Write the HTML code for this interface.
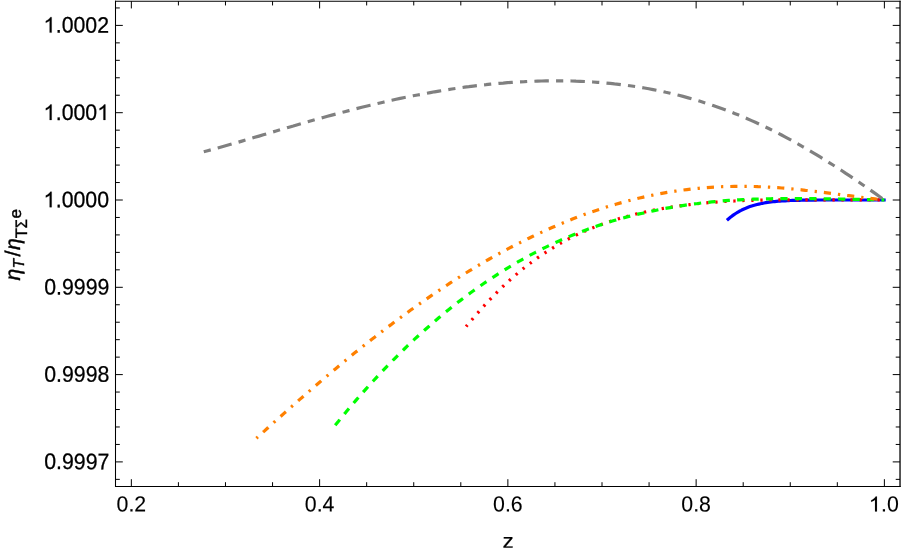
<!DOCTYPE html>
<html><head><meta charset="utf-8"><title>plot</title>
<style>
html,body{margin:0;padding:0;background:#fff;}
svg{display:block;will-change:transform;filter:opacity(1);}
text{font-family:"Liberation Sans",sans-serif;fill:#000;stroke:#000;text-rendering:geometricPrecision;}
</style></head><body>
<svg width="903" height="555" viewBox="0 0 903 555">
<rect width="903" height="555" fill="#fff"/>
<g fill="none" stroke-width="3.2" stroke-linecap="butt" stroke-linejoin="round">
<path d="M726.9,220.3 L728.7,218.7 L730.4,217.3 L732.2,215.9 L734.0,214.6 L735.7,213.5 L737.5,212.4 L739.3,211.3 L741.1,210.4 L742.8,209.5 L744.6,208.7 L746.4,208.0 L748.1,207.3 L749.9,206.6 L751.7,206.0 L753.4,205.5 L755.2,205.0 L757.0,204.5 L758.8,204.1 L760.5,203.7 L762.3,203.3 L764.1,203.0 L765.8,202.7 L767.6,202.4 L769.4,202.2 L771.1,202.0 L772.9,201.7 L774.7,201.6 L776.5,201.4 L778.2,201.2 L780.0,201.1 L781.8,201.0 L783.5,200.9 L785.3,200.8 L787.1,200.7 L788.8,200.6 L790.6,200.5 L792.4,200.4 L794.1,200.4 L795.9,200.3 L797.7,200.3 L799.5,200.3 L801.2,200.2 L803.0,200.2 L804.8,200.2 L806.5,200.1 L808.3,200.1 L810.1,200.1 L811.8,200.1 L813.6,200.1 L815.4,200.1 L817.2,200.0 L818.9,200.0 L820.7,200.0 L822.5,200.0 L824.2,200.0 L826.0,200.0 L827.8,200.0 L829.5,200.0 L831.3,200.0 L833.1,200.0 L834.8,200.0 L836.6,200.0 L838.4,200.0 L840.2,200.0 L841.9,200.0 L843.7,200.0 L845.5,200.0 L847.2,200.0 L849.0,200.0 L850.8,200.0 L852.5,200.0 L854.3,200.0 L856.1,200.0 L857.9,200.0 L859.6,200.0 L861.4,200.0 L863.2,200.0 L864.9,200.0 L866.7,200.0 L868.5,200.0 L870.2,200.0 L872.0,200.0 L873.8,200.0 L875.6,200.0 L877.3,200.0 L879.1,200.0 L880.9,200.0 L882.6,200.0 L884.4,200.0 L885.7,200.0" stroke="#0000ff"/>
<path d="M466.1,326.6 L468.7,323.4 L471.4,320.3 L474.0,317.2 L476.6,314.2 L479.3,311.2 L481.9,308.2 L484.5,305.4 L487.1,302.5 L489.8,299.7 L492.4,297.0 L495.0,294.3 L497.7,291.6 L500.3,289.1 L502.9,286.5 L505.6,284.0 L508.2,281.6 L510.8,279.2 L513.5,276.9 L516.1,274.6 L518.7,272.4 L521.3,270.2 L524.0,268.1 L526.6,266.0 L529.2,264.0 L531.9,262.0 L534.5,260.1 L537.1,258.2 L539.8,256.4 L542.4,254.6 L545.0,252.8 L547.7,251.1 L550.3,249.4 L552.9,247.8 L555.5,246.2 L558.2,244.6 L560.8,243.1 L563.4,241.7 L566.1,240.2 L568.7,238.8 L571.3,237.5 L574.0,236.2 L576.6,234.9 L579.2,233.6 L581.9,232.4 L584.5,231.3 L587.1,230.1 L589.7,229.0 L592.4,227.9 L595.0,226.9 L597.6,225.8 L600.3,224.8 L602.9,223.9 L605.5,223.0 L608.2,222.1 L610.8,221.2 L613.4,220.4 L616.1,219.6 L618.7,218.8 L621.3,218.0 L623.9,217.2 L626.6,216.5 L629.2,215.8 L631.8,215.1 L634.5,214.5 L637.1,213.8 L639.7,213.2 L642.4,212.6 L645.0,212.0 L647.6,211.4 L650.3,210.9 L652.9,210.4 L655.5,209.8 L658.1,209.3 L660.8,208.9 L663.4,208.4 L666.0,208.0 L668.7,207.5 L671.3,207.1 L673.9,206.7 L676.6,206.3 L679.2,205.9 L681.8,205.6 L684.5,205.2 L687.1,204.9 L689.7,204.6 L692.4,204.3 L695.0,204.0 L697.6,203.7 L700.2,203.4 L702.9,203.2 L705.5,202.9 L708.1,202.7 L710.8,202.5 L713.4,202.3 L716.0,202.1 L718.7,201.9 L721.3,201.7 L723.9,201.5 L726.6,201.4 L729.2,201.2 L731.8,201.1 L734.4,201.0 L737.1,200.9 L739.7,200.7 L742.3,200.6 L745.0,200.5 L747.6,200.5 L750.2,200.4 L752.9,200.3 L755.5,200.2 L758.1,200.2 L760.8,200.1 L763.4,200.1 L766.0,200.0 L768.6,200.0 L771.3,200.0 L773.9,199.9 L776.5,199.9 L779.2,199.9 L781.8,199.9 L784.4,199.9 L787.1,199.9 L789.7,199.8 L792.3,199.8 L795.0,199.8 L797.6,199.8 L800.2,199.8 L802.8,199.8 L805.5,199.8 L808.1,199.8 L810.7,199.8 L813.4,199.8 L816.0,199.8 L818.6,199.8 L821.3,199.8 L823.9,199.8 L826.5,199.8 L829.2,199.8 L831.8,199.8 L834.4,199.8 L837.0,199.8 L839.7,199.8 L842.3,199.8 L844.9,199.8 L847.6,199.8 L850.2,199.8 L852.8,199.8 L855.5,199.8 L858.1,199.8 L860.7,199.8 L863.4,199.8 L866.0,199.8 L868.6,199.8 L871.2,199.8 L873.9,199.8 L876.5,199.9 L879.1,199.9 L881.8,199.9 L884.4,200.0" stroke="#ff0000" stroke-dasharray="2.3 6.715" stroke-dashoffset="0.3"/>
<path d="M335.2,425.2 L338.7,421.0 L342.1,416.7 L345.6,412.6 L349.0,408.4 L352.5,404.4 L355.9,400.4 L359.4,396.4 L362.8,392.5 L366.3,388.6 L369.7,384.8 L373.2,381.0 L376.6,377.3 L380.1,373.6 L383.6,369.9 L387.0,366.3 L390.5,362.8 L393.9,359.3 L397.4,355.8 L400.8,352.4 L404.3,349.0 L407.7,345.7 L411.2,342.4 L414.6,339.2 L418.1,336.0 L421.6,332.9 L425.0,329.8 L428.5,326.7 L431.9,323.7 L435.4,320.7 L438.8,317.8 L442.3,314.9 L445.7,312.1 L449.2,309.3 L452.6,306.5 L456.1,303.8 L459.5,301.1 L463.0,298.5 L466.5,295.9 L469.9,293.3 L473.4,290.8 L476.8,288.3 L480.3,285.9 L483.7,283.5 L487.2,281.1 L490.6,278.8 L494.1,276.6 L497.5,274.3 L501.0,272.1 L504.5,270.0 L507.9,267.8 L511.4,265.8 L514.8,263.7 L518.3,261.7 L521.7,259.8 L525.2,257.8 L528.6,255.9 L532.1,254.1 L535.5,252.3 L539.0,250.5 L542.4,248.8 L545.9,247.1 L549.4,245.4 L552.8,243.8 L556.3,242.2 L559.7,240.6 L563.2,239.1 L566.6,237.6 L570.1,236.1 L573.5,234.7 L577.0,233.3 L580.4,232.0 L583.9,230.7 L587.3,229.4 L590.8,228.1 L594.3,226.9 L597.7,225.7 L601.2,224.6 L604.6,223.5 L608.1,222.4 L611.5,221.3 L615.0,220.3 L618.4,219.3 L621.9,218.3 L625.3,217.4 L628.8,216.5 L632.3,215.6 L635.7,214.8 L639.2,213.9 L642.6,213.2 L646.1,212.4 L649.5,211.7 L653.0,210.9 L656.4,210.2 L659.9,209.5 L663.3,208.8 L666.8,208.2 L670.2,207.6 L673.7,207.0 L677.2,206.4 L680.6,205.9 L684.1,205.3 L687.5,204.8 L691.0,204.4 L694.4,203.9 L697.9,203.5 L701.3,203.0 L704.8,202.7 L708.2,202.3 L711.7,201.9 L715.1,201.6 L718.6,201.3 L722.1,201.0 L725.5,200.7 L729.0,200.4 L732.4,200.2 L735.9,200.0 L739.3,199.8 L742.8,199.6 L746.2,199.5 L749.7,199.3 L753.1,199.2 L756.6,199.1 L760.1,199.0 L763.5,198.9 L767.0,198.8 L770.4,198.8 L773.9,198.7 L777.3,198.7 L780.8,198.6 L784.2,198.6 L787.7,198.6 L791.1,198.6 L794.6,198.6 L798.0,198.6 L801.5,198.6 L805.0,198.6 L808.4,198.6 L811.9,198.6 L815.3,198.7 L818.8,198.7 L822.2,198.7 L825.7,198.8 L829.1,198.8 L832.6,198.9 L836.0,198.9 L839.5,199.0 L843.0,199.1 L846.4,199.1 L849.9,199.2 L853.3,199.3 L856.8,199.3 L860.2,199.4 L863.7,199.5 L867.1,199.6 L870.6,199.6 L874.0,199.7 L877.5,199.8 L880.9,199.9 L884.4,200.0" stroke="#00ff00" stroke-dasharray="7.218 7.218"/>
<path d="M256.4,438.2 L260.3,434.6 L264.3,431.1 L268.2,427.5 L272.2,424.0 L276.1,420.4 L280.1,416.9 L284.0,413.4 L288.0,409.9 L291.9,406.4 L295.9,402.9 L299.8,399.4 L303.8,396.0 L307.7,392.5 L311.7,389.1 L315.6,385.7 L319.6,382.3 L323.5,378.9 L327.5,375.6 L331.4,372.2 L335.4,368.9 L339.3,365.6 L343.3,362.3 L347.2,359.1 L351.2,355.8 L355.1,352.6 L359.1,349.5 L363.0,346.3 L367.0,343.2 L370.9,340.0 L374.9,337.0 L378.8,333.9 L382.8,330.9 L386.7,327.8 L390.7,324.9 L394.6,321.9 L398.6,319.0 L402.5,316.1 L406.5,313.2 L410.4,310.3 L414.4,307.5 L418.3,304.7 L422.3,301.9 L426.2,299.2 L430.2,296.4 L434.1,293.7 L438.1,291.1 L442.0,288.4 L446.0,285.8 L449.9,283.2 L453.9,280.6 L457.8,278.1 L461.8,275.6 L465.7,273.1 L469.7,270.7 L473.6,268.3 L477.6,265.9 L481.5,263.6 L485.5,261.3 L489.4,259.0 L493.4,256.8 L497.3,254.6 L501.3,252.4 L505.2,250.3 L509.2,248.2 L513.1,246.1 L517.1,244.1 L521.0,242.1 L525.0,240.1 L528.9,238.2 L532.9,236.3 L536.8,234.4 L540.8,232.6 L544.7,230.8 L548.7,229.0 L552.6,227.3 L556.6,225.6 L560.5,223.9 L564.5,222.3 L568.4,220.7 L572.4,219.1 L576.3,217.6 L580.3,216.1 L584.2,214.6 L588.2,213.2 L592.1,211.8 L596.1,210.5 L600.0,209.2 L604.0,207.9 L607.9,206.6 L611.9,205.4 L615.8,204.3 L619.8,203.1 L623.7,202.0 L627.7,201.0 L631.6,199.9 L635.6,199.0 L639.5,198.0 L643.5,197.1 L647.4,196.2 L651.4,195.4 L655.3,194.6 L659.3,193.8 L663.2,193.1 L667.2,192.4 L671.1,191.8 L675.1,191.2 L679.0,190.6 L683.0,190.1 L686.9,189.6 L690.9,189.1 L694.8,188.7 L698.8,188.3 L702.7,187.9 L706.7,187.6 L710.6,187.3 L714.6,187.1 L718.5,186.9 L722.5,186.7 L726.4,186.6 L730.4,186.5 L734.3,186.4 L738.3,186.4 L742.2,186.4 L746.2,186.4 L750.1,186.4 L754.1,186.5 L758.0,186.7 L762.0,186.8 L765.9,187.0 L769.9,187.2 L773.8,187.5 L777.8,187.7 L781.7,188.0 L785.7,188.3 L789.6,188.7 L793.6,189.0 L797.5,189.4 L801.5,189.8 L805.4,190.3 L809.4,190.7 L813.3,191.2 L817.3,191.6 L821.2,192.1 L825.2,192.6 L829.1,193.1 L833.1,193.6 L837.0,194.1 L841.0,194.7 L844.9,195.2 L848.9,195.7 L852.8,196.2 L856.8,196.7 L860.7,197.3 L864.7,197.8 L868.6,198.2 L872.6,198.7 L876.5,199.2 L880.5,199.6 L884.4,200.0" stroke="#ff8000" stroke-dasharray="2.3 7.0 7.16 7.009" stroke-dashoffset="0.3"/>
<path d="M203.3,151.9 L207.6,150.7 L211.9,149.6 L216.2,148.4 L220.4,147.2 L224.7,146.0 L229.0,144.8 L233.3,143.6 L237.6,142.4 L241.9,141.1 L246.1,139.9 L250.4,138.6 L254.7,137.3 L259.0,136.1 L263.3,134.8 L267.6,133.5 L271.8,132.2 L276.1,131.0 L280.4,129.7 L284.7,128.5 L289.0,127.2 L293.3,126.0 L297.5,124.7 L301.8,123.5 L306.1,122.2 L310.4,121.0 L314.7,119.8 L319.0,118.6 L323.2,117.5 L327.5,116.3 L331.8,115.1 L336.1,114.0 L340.4,112.8 L344.7,111.7 L348.9,110.6 L353.2,109.5 L357.5,108.4 L361.8,107.3 L366.1,106.3 L370.4,105.2 L374.6,104.2 L378.9,103.2 L383.2,102.2 L387.5,101.2 L391.8,100.3 L396.1,99.3 L400.3,98.4 L404.6,97.5 L408.9,96.7 L413.2,95.8 L417.5,95.0 L421.8,94.2 L426.0,93.4 L430.3,92.6 L434.6,91.8 L438.9,91.1 L443.2,90.4 L447.5,89.7 L451.8,89.0 L456.0,88.4 L460.3,87.8 L464.6,87.2 L468.9,86.7 L473.2,86.1 L477.5,85.6 L481.7,85.1 L486.0,84.7 L490.3,84.2 L494.6,83.8 L498.9,83.4 L503.2,83.1 L507.4,82.7 L511.7,82.4 L516.0,82.1 L520.3,81.9 L524.6,81.7 L528.9,81.4 L533.1,81.3 L537.4,81.1 L541.7,81.0 L546.0,80.9 L550.3,80.9 L554.6,80.8 L558.8,80.8 L563.1,80.9 L567.4,80.9 L571.7,81.0 L576.0,81.2 L580.3,81.3 L584.5,81.5 L588.8,81.7 L593.1,82.0 L597.4,82.3 L601.7,82.6 L606.0,83.0 L610.2,83.4 L614.5,83.9 L618.8,84.3 L623.1,84.9 L627.4,85.4 L631.7,86.0 L635.9,86.6 L640.2,87.3 L644.5,88.0 L648.8,88.8 L653.1,89.6 L657.4,90.4 L661.7,91.3 L665.9,92.3 L670.2,93.2 L674.5,94.3 L678.8,95.3 L683.1,96.4 L687.4,97.6 L691.6,98.8 L695.9,100.0 L700.2,101.3 L704.5,102.7 L708.8,104.0 L713.1,105.5 L717.3,107.0 L721.6,108.5 L725.9,110.1 L730.2,111.7 L734.5,113.4 L738.8,115.1 L743.0,116.9 L747.3,118.7 L751.6,120.6 L755.9,122.5 L760.2,124.5 L764.5,126.5 L768.7,128.5 L773.0,130.7 L777.3,132.8 L781.6,135.0 L785.9,137.3 L790.2,139.6 L794.4,141.9 L798.7,144.3 L803.0,146.8 L807.3,149.2 L811.6,151.8 L815.9,154.3 L820.1,156.9 L824.4,159.6 L828.7,162.3 L833.0,165.0 L837.3,167.7 L841.6,170.5 L845.8,173.4 L850.1,176.2 L854.4,179.1 L858.7,182.0 L863.0,185.0 L867.3,187.9 L871.5,190.9 L875.8,193.9 L880.1,197.0 L884.4,200.0" stroke="#808080" stroke-dasharray="7.214 7.214 14.429 7.214" stroke-dashoffset="-0.5"/>
</g>
<g stroke="#000" fill="none"><path d="M115.5,0.6499999999999999 V487.02" stroke-width="1.05"/><path d="M115.0,486.5 H900.63" stroke-width="1.05"/><path d="M900.03,0.6499999999999999 V487.0" stroke-width="1.3"/><path d="M115.0,1.15 H900.63" stroke-width="1.05"/></g>
<path d="M131.35,486.5 v-7.3 M131.35,1.15 v7.3 M178.41,486.5 v-4.3 M178.41,1.15 v4.3 M225.48,486.5 v-4.3 M225.48,1.15 v4.3 M272.55,486.5 v-4.3 M272.55,1.15 v4.3 M319.61,486.5 v-7.3 M319.61,1.15 v7.3 M366.67,486.5 v-4.3 M366.67,1.15 v4.3 M413.74,486.5 v-4.3 M413.74,1.15 v4.3 M460.81,486.5 v-4.3 M460.81,1.15 v4.3 M507.87,486.5 v-7.3 M507.87,1.15 v7.3 M554.93,486.5 v-4.3 M554.93,1.15 v4.3 M602.00,486.5 v-4.3 M602.00,1.15 v4.3 M649.07,486.5 v-4.3 M649.07,1.15 v4.3 M696.13,486.5 v-7.3 M696.13,1.15 v7.3 M743.20,486.5 v-4.3 M743.20,1.15 v4.3 M790.26,486.5 v-4.3 M790.26,1.15 v4.3 M837.32,486.5 v-4.3 M837.32,1.15 v4.3 M884.39,486.5 v-7.3 M884.39,1.15 v7.3 M115.5,479.36 h4.3 M900.03,479.36 h-4.3 M115.5,461.90 h7.3 M900.03,461.90 h-7.3 M115.5,444.44 h4.3 M900.03,444.44 h-4.3 M115.5,426.98 h4.3 M900.03,426.98 h-4.3 M115.5,409.52 h4.3 M900.03,409.52 h-4.3 M115.5,392.06 h4.3 M900.03,392.06 h-4.3 M115.5,374.60 h7.3 M900.03,374.60 h-7.3 M115.5,357.14 h4.3 M900.03,357.14 h-4.3 M115.5,339.68 h4.3 M900.03,339.68 h-4.3 M115.5,322.22 h4.3 M900.03,322.22 h-4.3 M115.5,304.76 h4.3 M900.03,304.76 h-4.3 M115.5,287.30 h7.3 M900.03,287.30 h-7.3 M115.5,269.84 h4.3 M900.03,269.84 h-4.3 M115.5,252.38 h4.3 M900.03,252.38 h-4.3 M115.5,234.92 h4.3 M900.03,234.92 h-4.3 M115.5,217.46 h4.3 M900.03,217.46 h-4.3 M115.5,200.00 h7.3 M900.03,200.00 h-7.3 M115.5,182.54 h4.3 M900.03,182.54 h-4.3 M115.5,165.08 h4.3 M900.03,165.08 h-4.3 M115.5,147.62 h4.3 M900.03,147.62 h-4.3 M115.5,130.16 h4.3 M900.03,130.16 h-4.3 M115.5,112.70 h7.3 M900.03,112.70 h-7.3 M115.5,95.24 h4.3 M900.03,95.24 h-4.3 M115.5,77.78 h4.3 M900.03,77.78 h-4.3 M115.5,60.32 h4.3 M900.03,60.32 h-4.3 M115.5,42.86 h4.3 M900.03,42.86 h-4.3 M115.5,25.40 h7.3 M900.03,25.40 h-7.3 M115.5,7.94 h4.3 M900.03,7.94 h-4.3" stroke="#000" stroke-width="1.0" fill="none"/>
<g font-size="21.3px" stroke-width="0.25"><text transform="translate(116.54,511.50) rotate(0.05) scale(1,1.03)" stroke-width="0.12">0.2</text><text transform="translate(304.80,511.50) rotate(0.05) scale(1,1.03)" stroke-width="0.12">0.4</text><text transform="translate(493.06,511.50) rotate(0.05) scale(1,1.03)" stroke-width="0.12">0.6</text><text transform="translate(681.32,511.50) rotate(0.05) scale(1,1.03)" stroke-width="0.12">0.8</text><path transform="translate(868.78,511.50) scale(0.01071,-0.01025)" d="M763,0 L583,0 L583,1147 Q518,1085 412.5,1023 Q307,961 223,930 L223,1104 Q374,1175 487,1276 Q600,1377 647,1472 L763,1472 Z" fill="#000" stroke="#000" stroke-width="11.5"/><text transform="translate(881.08,511.50) rotate(0.05) scale(1,1.03)" stroke-width="0.12">.0</text><path transform="translate(43.45,32.60) scale(0.01071,-0.01050)" d="M763,0 L583,0 L583,1147 Q518,1085 412.5,1023 Q307,961 223,930 L223,1104 Q374,1175 487,1276 Q600,1377 647,1472 L763,1472 Z" fill="#000" stroke="#000" stroke-width="24.0"/><text transform="translate(55.75,32.60) rotate(0.05) scale(1,1.055)" stroke-width="0.25">.0002</text><path transform="translate(43.45,119.90) scale(0.01071,-0.01050)" d="M763,0 L583,0 L583,1147 Q518,1085 412.5,1023 Q307,961 223,930 L223,1104 Q374,1175 487,1276 Q600,1377 647,1472 L763,1472 Z" fill="#000" stroke="#000" stroke-width="24.0"/><text transform="translate(55.75,119.90) rotate(0.05) scale(1,1.055)" stroke-width="0.25">.000</text><path transform="translate(97.21,119.90) scale(0.01071,-0.01050)" d="M763,0 L583,0 L583,1147 Q518,1085 412.5,1023 Q307,961 223,930 L223,1104 Q374,1175 487,1276 Q600,1377 647,1472 L763,1472 Z" fill="#000" stroke="#000" stroke-width="24.0"/><path transform="translate(43.45,207.20) scale(0.01071,-0.01050)" d="M763,0 L583,0 L583,1147 Q518,1085 412.5,1023 Q307,961 223,930 L223,1104 Q374,1175 487,1276 Q600,1377 647,1472 L763,1472 Z" fill="#000" stroke="#000" stroke-width="24.0"/><text transform="translate(55.75,207.20) rotate(0.05) scale(1,1.055)" stroke-width="0.25">.0000</text><text transform="translate(44.25,294.50) rotate(0.05) scale(1,1.055)" stroke-width="0.25">0.9999</text><text transform="translate(44.25,381.80) rotate(0.05) scale(1,1.055)" stroke-width="0.25">0.9998</text><text transform="translate(44.25,469.10) rotate(0.05) scale(1,1.055)" stroke-width="0.25">0.9997</text>
<text transform="translate(508.05,547.8) rotate(0.05) scale(1.06,0.955)" text-anchor="middle" stroke-width="0.12">z</text>
<text transform="translate(20.0,280.6) rotate(-90) scale(1.0,1.0)" font-size="21.3px" stroke-width="0.4" font-style="italic">η</text><text transform="translate(23.9,268.5) rotate(-90) scale(1.0,1.0)" font-size="15.8px" stroke-width="0.4" font-style="italic">T</text><text transform="translate(20.2,256.5) rotate(-90) scale(1.0,1.0)" font-size="21.3px" stroke-width="0.4">/</text><text transform="translate(20.0,250.0) rotate(-90) scale(1.0,1.0)" font-size="21.3px" stroke-width="0.4" font-style="italic">η</text><text transform="translate(27.0,238.2) rotate(-90) scale(1.0,1.0)" font-size="16.5px" stroke-width="0.4">T</text><text transform="translate(27.0,228.2) rotate(-90) scale(0.9,1.0)" font-size="16.5px" stroke-width="0.4">Σ</text><text transform="translate(21.2,218.5) rotate(-90) scale(1.04,1.0)" font-size="16.5px" stroke-width="0.4">e</text>
</g>
</svg>
</body></html>
